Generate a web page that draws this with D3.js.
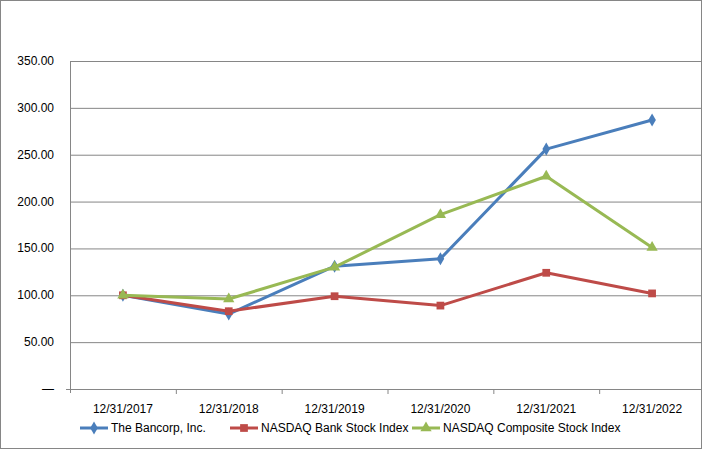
<!DOCTYPE html>
<html><head><meta charset="utf-8">
<script src="https://cdn.jsdelivr.net/npm/d3@7"></script>
<style>body{margin:0;background:#fff;font-family:"Liberation Sans",Arial,sans-serif;}</style>
</head><body><div id="chart"></div>
<script>
const categories = ["12/31/2017","12/31/2018","12/31/2019","12/31/2020","12/31/2021","12/31/2022"];
const bancorp = [100, 80, 131, 139, 256, 287];
const bankIndex = [100, 83, 99, 89, 124, 102];
const compositeIndex = [100, 96, 130, 186, 227, 151];
const yTicks = [0, 50, 100, 150, 200, 250, 300, 350];

const series = [
  { name: "The Bancorp, Inc.", values: bancorp, color: "#4a7ebb", shape: "diamond" },
  { name: "NASDAQ Bank Stock Index", values: bankIndex, color: "#be4b48", shape: "square" },
  { name: "NASDAQ Composite Stock Index", values: compositeIndex, color: "#98b954", shape: "triangle" }
];

const W = 705, H = 450;
const plotLeft = 70, plotRight = 705, plotTop = 61, plotBottom = 389;

const svg = d3.select("#chart").append("svg").attr("width", W).attr("height", H);
svg.append("rect").attr("x", 0.5).attr("y", 0.5).attr("width", W - 4).attr("height", H - 2)
  .attr("fill", "#fff").attr("stroke", "#868686");

const x = d3.scaleBand().domain(categories).range([plotLeft, plotRight]);
const y = d3.scaleLinear().domain([0, 350]).range([plotBottom, plotTop]);

// gridlines
svg.append("g").selectAll("line").data(yTicks.filter(d => d > 0)).join("line")
  .attr("x1", plotLeft).attr("x2", plotRight - 4).attr("y1", d => y(d) + 0.5).attr("y2", d => y(d) + 0.5)
  .attr("stroke", "#868686");

// y labels
svg.append("g").selectAll("text").data(yTicks).join("text")
  .attr("x", 54).attr("y", d => y(d) + 4).attr("text-anchor", "end")
  .style("font-size", "12px").attr("fill", "#000")
  .text(d => d === 0 ? "—" : d.toFixed(2));

// axes lines
svg.append("line").attr("x1", plotLeft + 0.5).attr("x2", plotLeft + 0.5).attr("y1", plotTop).attr("y2", plotBottom + 4).attr("stroke", "#868686");
svg.append("line").attr("x1", plotLeft - 4).attr("x2", plotRight - 4).attr("y1", plotBottom + 0.5).attr("y2", plotBottom + 0.5).attr("stroke", "#868686");
svg.append("g").selectAll("line").data(categories.slice(1)).join("line")
  .attr("x1", d => x(d) + 0.5).attr("x2", d => x(d) + 0.5).attr("y1", plotBottom).attr("y2", plotBottom + 5)
  .attr("stroke", "#868686");

svg.append("g").selectAll("text").data(categories).join("text")
  .attr("x", d => x(d) + x.bandwidth() / 2).attr("y", plotBottom + 24).attr("text-anchor", "middle")
  .style("font-size", "12px").text(d => d);

const cx = (d, i) => x(categories[i]) + x.bandwidth() / 2;
const symbolFor = s => s === "diamond" ? d3.symbolDiamond : s === "square" ? d3.symbolSquare : d3.symbolTriangle;
const sizeFor = s => s === "diamond" ? 50 : s === "square" ? 60 : 55;

series.forEach(s => {
  svg.append("path").datum(s.values)
    .attr("d", d3.line().x(cx).y(d => y(d)))
    .attr("fill", "none").attr("stroke", s.color).attr("stroke-width", 3).attr("stroke-linejoin", "round");
  svg.append("g").selectAll("path").data(s.values).join("path")
    .attr("transform", (d, i) => `translate(${cx(d, i)},${y(d)})`)
    .attr("d", d3.symbol(symbolFor(s.shape), sizeFor(s.shape)))
    .attr("fill", s.color);
});

// legend
const legendX = [80, 230, 412];
series.forEach((s, i) => {
  const g = svg.append("g").attr("transform", `translate(${legendX[i]},428)`);
  g.append("line").attr("x1", 0).attr("x2", 28).attr("stroke", s.color).attr("stroke-width", 3);
  g.append("path").attr("transform", "translate(14,0)").attr("d", d3.symbol(symbolFor(s.shape), sizeFor(s.shape))).attr("fill", s.color);
  g.append("text").attr("x", 31).attr("y", 4).style("font-size", "12px").text(s.name);
});
</script></body></html>
